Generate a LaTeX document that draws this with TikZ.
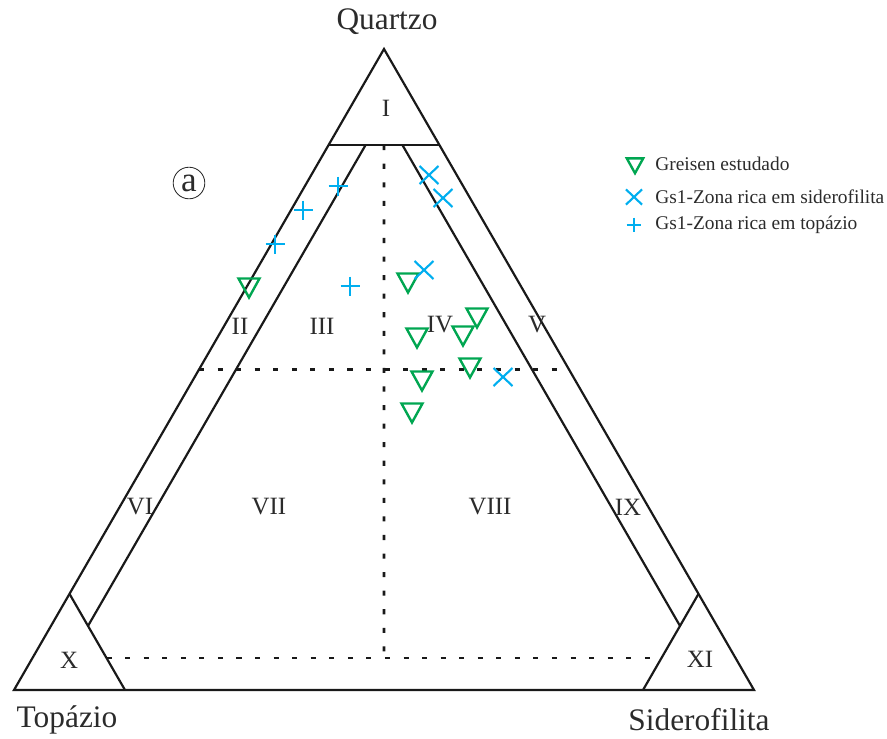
\documentclass[tikz,border=0pt]{standalone}
\usepackage{fontspec}
\setmainfont{Liberation Serif}
\usepackage{tikz}
\usetikzlibrary{positioning}
\definecolor{greisenGreen}{HTML}{00A651}
\definecolor{gsBlue}{HTML}{00AEEF}
\definecolor{labelGray}{HTML}{2B2B2B}

\begin{document}
\begin{tikzpicture}[
  x=0.025cm,
  y=-0.025cm,
  edge/.style={line width=1.55pt, draw=black!90, line join=miter},
  guide/.style={line width=2pt, draw=black!90, dash pattern=on 3.6pt off 9.6pt},
  field/.style={font=\fontsize{17.7}{20}\selectfont, text=labelGray, inner sep=0pt},
  apex/.style={font=\fontsize{22.3}{26}\selectfont, text=labelGray, inner sep=0pt},
  legtext/.style={font=\fontsize{13.8}{16}\selectfont, text=labelGray, anchor=base west, inner sep=0pt},
  greisen/.pic={\draw[greisenGreen, line width=1.7pt, line join=miter] (-10.5,-8.5) -- (10.5,-8.5) -- (0,10.5) -- cycle;},
  sider/.pic={\draw[gsBlue, line width=1.5pt] (-9.5,-9) -- (9.5,9) (-9.5,9) -- (9.5,-9);},
  topaz/.pic={\draw[gsBlue, line width=1.5pt] (-9.5,0) -- (9.5,0) (0,-9.5) -- (0,9.5);}
]
\useasboundingbox (0,0) rectangle (887,738);

% vertices of the ternary plot
\coordinate (Q) at (384,49);
\coordinate (T) at (14,690);
\coordinate (S) at (754,690);

% outer triangle and corner fields
\draw[edge] (Q) -- (T) -- (S) -- cycle;
\draw[edge] (barycentric cs:Q=0.85,T=0.15) -- (barycentric cs:Q=0.85,S=0.15);
\draw[edge] (barycentric cs:T=0.85,Q=0.15) -- (barycentric cs:T=0.85,S=0.15);
\draw[edge] (barycentric cs:S=0.85,Q=0.15) -- (barycentric cs:S=0.85,T=0.15);

% inner boundaries at 5%
\draw[edge] (barycentric cs:Q=0.85,T=0.10,S=0.05) -- (barycentric cs:Q=0.10,T=0.85,S=0.05);
\draw[edge] (barycentric cs:Q=0.85,T=0.05,S=0.10) -- (barycentric cs:Q=0.10,T=0.05,S=0.85);

% dashed divisions
\draw[guide] (barycentric cs:Q=0.5,T=0.5) -- (barycentric cs:Q=0.5,S=0.5);
\draw[guide] (barycentric cs:Q=0.05,T=0.85,S=0.10) -- (barycentric cs:Q=0.05,T=0.10,S=0.85);
\draw[guide] (barycentric cs:Q=0.85,T=0.075,S=0.075) -- (barycentric cs:Q=0.05,T=0.475,S=0.475);

% vertex names
\node[apex] (quartzo) at (387,22) {Quartzo};
\node[apex] (topazio) at (67,720) {Topázio};
\node[apex] (sidero) at (699,720) {Siderofilita};

% field numbers
\node[field] (fI) at (386,108) {I};
\node[field] (fII) at (240,326) {II};
\node[field] (fIII) at (322,326) {III};
\node[field] (fIV) at (440,325) {IV};
\node[field] (fV) at (537,325) {V};
\node[field] (fVI) at (140,507) {VI};
\node[field] (fVII) at (269,507) {VII};
\node[field] (fVIII) at (490,507) {VIII};
\node[field] (fIX) at (628,507) {IX};
\node[field] (fX) at (69,660) {X};
\node[field] (fXI) at (700,659) {XI};

\node[draw=labelGray, line width=0.6pt, circle, inner sep=0pt, minimum size=0.79cm] (panel) at (189,183) {};
\node[text=labelGray, font=\fontsize{25}{28}\selectfont, inner sep=0pt] (panelA) at (panel.center) {a};

% samples
\foreach \p in {(249,287),(408,282),(417,337),(463,335),(477,317),(470,367),(422,380),(412,412)}
  \pic at \p {greisen};
\foreach \p in {(429,175),(443,198),(424,270),(503,377)}
  \pic at \p {sider};
\foreach \p in {(338,186),(303,210),(275,244),(350,286)}
  \pic at \p {topaz};

% legend
\pic[scale=0.78] at (635,165) {greisen};
\pic[scale=0.85] at (634,197) {sider};
\pic[scale=0.78] at (634,225) {topaz};
\node[legtext] (lgGreisen) at (655,170) {Greisen estudado};
\node[legtext] (lgSider) at (655,203) {Gs1-Zona rica em siderofilita};
\node[legtext] (lgTopaz) at (655,229) {Gs1-Zona rica em topázio};
\end{tikzpicture}
\end{document}
